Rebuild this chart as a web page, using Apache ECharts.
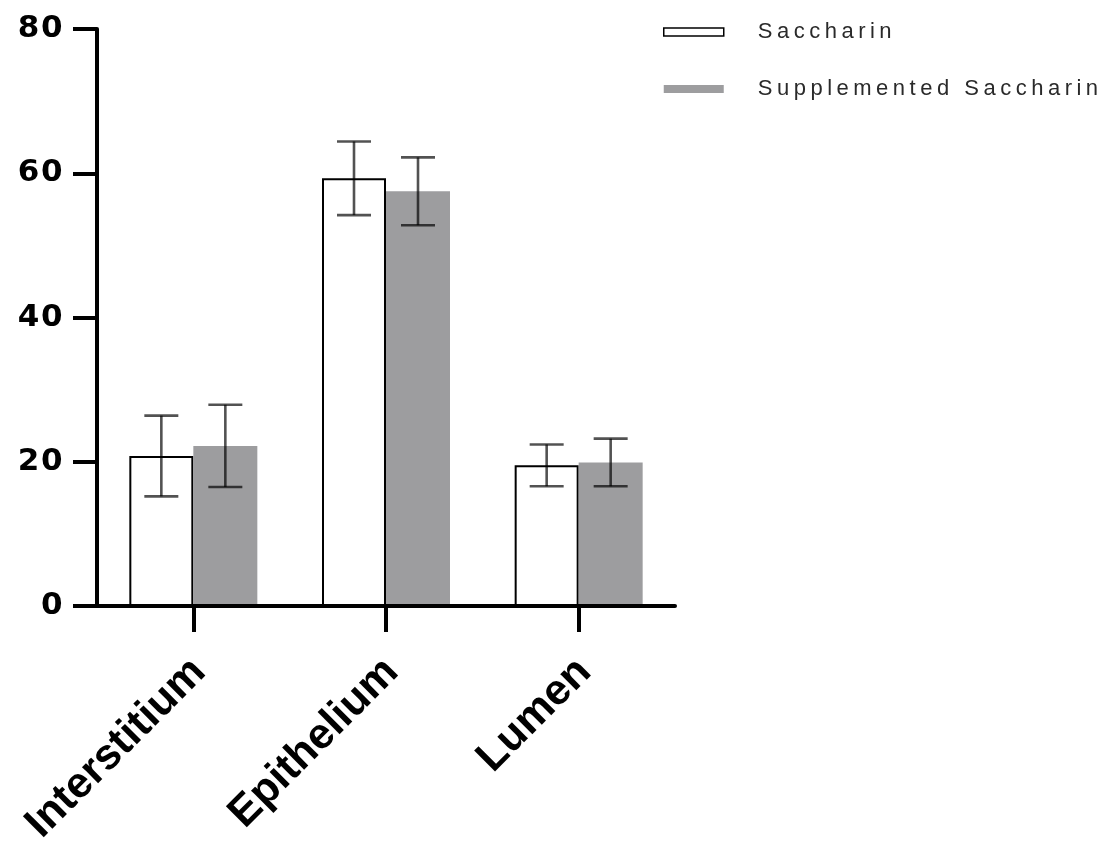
<!DOCTYPE html>
<html>
<head>
<meta charset="utf-8">
<title>Saccharin distribution by compartment</title>
<script src="https://cdn.jsdelivr.net/npm/echarts@6/dist/echarts.min.js"></script>
<style>
  html, body { margin: 0; padding: 0; background: #ffffff; }
  #chart { width: 1117px; height: 842px; }
</style>
</head>
<body>
<div id="chart"></div>
<script>
// Compartment categories along the x axis
const categories = ['Interstitium', 'Epithelium', 'Lumen'];

// Mean values and error (± half-range) per compartment
const saccharinMean = [20.8, 59.3, 19.5];
const saccharinErr = [5.6, 5.1, 2.9];
const supplementedMean = [22.2, 57.5, 19.9];
const supplementedErr = [5.7, 4.7, 3.3];

// Y axis scale
const yMin = 0;
const yMax = 80;
const yStep = 20;

const seriesNames = ['Saccharin', 'Supplemented Saccharin'];

// Styling constants
const BAR_W = 64;
const CAP_W = 34;
const GREY = '#9d9d9f';
const LEGEND_FONT = 'Liberation Sans';
const Y_FONT = 'DejaVu Sans';
const X_FONT = 'Arial';

// Extra tracking (px) per font family used in the chart
const TRACKING = [
  [LEGEND_FONT, '4.5px'],
  [Y_FONT, '1.5px']
];

function trackingFor(font) {
  if (typeof font !== 'string') return null;
  for (const [family, spacing] of TRACKING) {
    if (font.indexOf(family) >= 0) return spacing;
  }
  return null;
}

const baseFillText = CanvasRenderingContext2D.prototype.fillText;
CanvasRenderingContext2D.prototype.fillText = function (text, x, y, maxW) {
  const font = this.font;
  const spacing = trackingFor(font);
  if (spacing) {
    this.save();
    this.letterSpacing = spacing;
    this.font = font;
  }
  if (maxW === undefined) baseFillText.call(this, text, x, y);
  else baseFillText.call(this, text, x, y, maxW);
  if (spacing) {
    this.restore();
    this.letterSpacing = '0px';
    this.font = font;
  }
};

// Error bar data: [categoryIndex, low, high]
function errorData(mean, err) {
  return mean.map((m, i) => [i, m - err[i], m + err[i]]);
}

function errorSeries(name, data, offset) {
  return {
    type: 'custom',
    name: name + ' error',
    z: 4,
    silent: true,
    renderItem: function (params, api) {
      const idx = api.value(0);
      const lo = api.coord([idx, api.value(1)]);
      const hi = api.coord([idx, api.value(2)]);
      const x = lo[0] + offset;
      const style = { stroke: 'rgba(0,0,0,0.68)', lineWidth: 2.6, fill: null };
      return {
        type: 'group',
        children: [
          { type: 'line', shape: { x1: x, y1: hi[1], x2: x, y2: lo[1] }, style: style },
          { type: 'line', shape: { x1: x - CAP_W / 2, y1: hi[1], x2: x + CAP_W / 2, y2: hi[1] }, style: style },
          { type: 'line', shape: { x1: x - CAP_W / 2, y1: lo[1], x2: x + CAP_W / 2, y2: lo[1] }, style: style }
        ]
      };
    },
    encode: { x: 0, y: [1, 2] },
    data: data
  };
}

const chart = echarts.init(document.getElementById('chart'), null, { renderer: 'canvas' });

chart.setOption({
  animation: false,
  backgroundColor: '#ffffff',
  grid: {
    left: 97,
    right: 1117 - 675,
    top: 29,
    bottom: 842 - 606,
    containLabel: false,
    outerBoundsMode: 'none'
  },
  legend: {
    orient: 'vertical',
    left: 663,
    top: 21,
    padding: 0,
    itemGap: 35,
    itemWidth: 60,
    itemHeight: 8,
    icon: 'rect',
    selectedMode: false,
    textStyle: {
      fontFamily: LEGEND_FONT,
      fontSize: 22,
      color: '#2a2a2a',
      padding: [8, 0, 0, 29]
    },
    data: [
      { name: seriesNames[0], itemStyle: { color: '#ffffff', borderColor: '#000000', borderWidth: 1.5 } },
      { name: seriesNames[1], itemStyle: { color: GREY, borderWidth: 0 } }
    ]
  },
  xAxis: {
    type: 'category',
    data: categories,
    z: 6,
    boundaryGap: true,
    axisLine: { show: true, lineStyle: { color: '#000000', width: 4 } },
    axisTick: { show: true, alignWithLabel: true, length: 26, lineStyle: { color: '#000000', width: 4 } },
    axisLabel: {
      rotate: 45,
      margin: 65,
      padding: [0, -8, 0, 0],
      fontFamily: X_FONT,
      fontWeight: 'bold',
      fontSize: 43,
      color: '#000000'
    },
    splitLine: { show: false }
  },
  yAxis: {
    type: 'value',
    min: yMin,
    max: yMax,
    interval: yStep,
    z: 6,
    axisLine: { show: true, lineStyle: { color: '#000000', width: 4 } },
    axisTick: { show: true, length: 24, lineStyle: { color: '#000000', width: 4 } },
    axisLabel: {
      margin: 33,
      fontFamily: Y_FONT,
      fontWeight: 'bold',
      fontSize: 31,
      color: '#000000'
    },
    splitLine: { show: false }
  },
  series: [
    {
      name: seriesNames[0],
      type: 'bar',
      barWidth: BAR_W,
      barGap: '0%',
      z: 2,
      itemStyle: { color: '#ffffff', borderColor: '#000000', borderWidth: 2 },
      data: saccharinMean
    },
    {
      name: seriesNames[1],
      type: 'bar',
      barWidth: BAR_W,
      barGap: '0%',
      z: 2,
      itemStyle: { color: GREY, borderWidth: 0 },
      data: supplementedMean
    },
    errorSeries(seriesNames[0], errorData(saccharinMean, saccharinErr), -BAR_W / 2),
    errorSeries(seriesNames[1], errorData(supplementedMean, supplementedErr), BAR_W / 2)
  ]
});
</script>
</body>
</html>
